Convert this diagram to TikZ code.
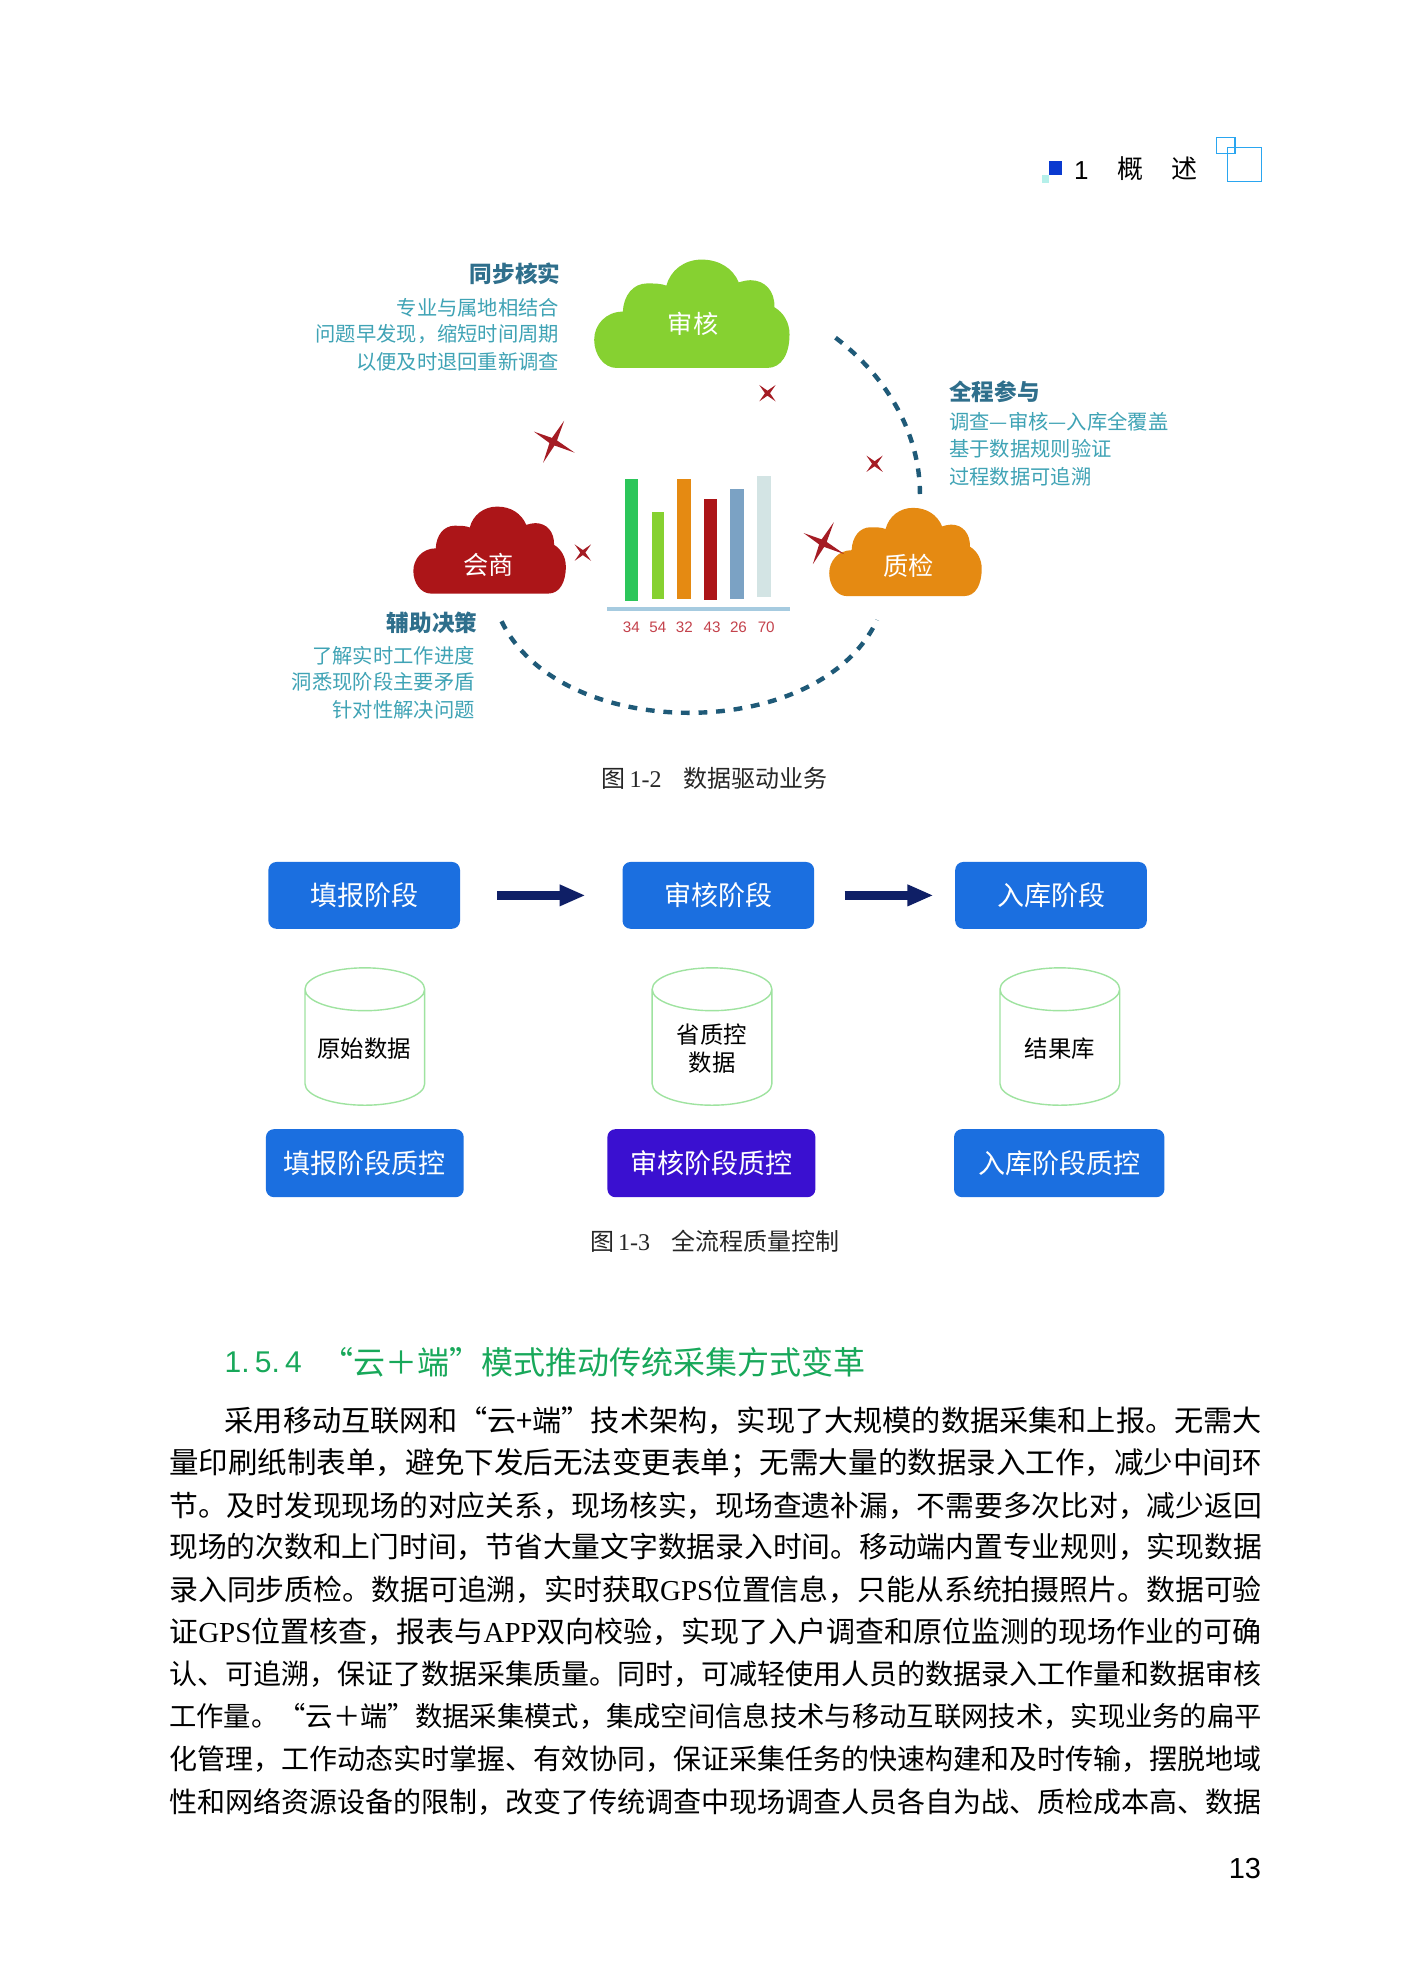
\documentclass[tikz,border=0pt]{standalone}
\usepackage{graphicx}
\usepackage{fontspec}
\usetikzlibrary{arrows.meta}
\setmainfont{Noto Sans CJK SC}
\newfontfamily\latserif{Liberation Serif}
\newfontfamily\latsans{Liberation Sans}
\definecolor{cgreen}{HTML}{86D131}
\definecolor{cred}{HTML}{AC1518}
\definecolor{corange}{HTML}{E58A12}
\definecolor{starred}{HTML}{A51C24}
\definecolor{headteal}{HTML}{2F6F8C}
\definecolor{lineteal}{HTML}{3FA3B5}
\definecolor{dashblue}{HTML}{1F5A78}
\definecolor{btnblue}{HTML}{1B6FE0}
\definecolor{btnpurple}{HTML}{3A10D0}
\definecolor{arrownavy}{HTML}{0F1F66}
\definecolor{cylgreen}{HTML}{9FE3A0}
\definecolor{secgreen}{HTML}{18A85A}
\definecolor{bargreen}{HTML}{2CC65A}
\definecolor{barlime}{HTML}{86D131}
\definecolor{barblue}{HTML}{7BA2C4}
\definecolor{barpale}{HTML}{D3E4E4}
\definecolor{axisblue}{HTML}{A6CBE0}
\definecolor{numred}{HTML}{C4424C}
\definecolor{cyanline}{HTML}{2AA6F0}
\definecolor{hblue}{HTML}{0A3AD0}
\definecolor{hcyan}{HTML}{B5F0EA}
\newcommand\fz[1]{\fontsize{#1}{#1}\selectfont}
% cloud in a unit box, scaled to x y w h
\newcommand\mycloud[5]{%
  \fill[#5,shift={(#1,#2)},xscale=#3,yscale=#4]
    (0.115,1) -- (0.885,1) .. controls (0.96,1) and (1,0.87) .. (1,0.69)
    .. controls (1,0.58) and (0.97,0.49) .. (0.923,0.44)
    .. controls (0.925,0.29) and (0.875,0.19) .. (0.80,0.19)
    .. controls (0.78,0.19) and (0.76,0.2) .. (0.74,0.21)
    .. controls (0.71,0.08) and (0.64,0) .. (0.55,0)
    .. controls (0.46,0) and (0.39,0.1) .. (0.37,0.24)
    .. controls (0.34,0.22) and (0.31,0.22) .. (0.27,0.22)
    .. controls (0.20,0.22) and (0.15,0.33) .. (0.147,0.48)
    .. controls (0.06,0.48) and (0,0.6) .. (0,0.74)
    .. controls (0,0.88) and (0.05,1) .. (0.115,1) -- cycle;}
% four-armed star
\newcommand\mystar[2]{%
  \fill[starred,shift={(#1,#2)}]
    (8.7,-16.7) -- (3,-1) -- (17,8.7) -- (1,3) -- (-8,16.7) -- (-3,1) -- (-15.3,-8) -- (-1,-3) -- cycle;}
% small cross
\newcommand\mycross[2]{%
  \fill[starred,shift={(#1,#2)}]
    (6.5,-6.5) -- (2,0) -- (6.5,6.5) -- (0,2) -- (-6.5,6.5) -- (-2,0) -- (-6.5,-6.5) -- (0,-2) -- cycle;}
\newcommand\mycyl[1]{%
  \draw[cylgreen,line width=0.7pt] (#1-47.5,785) arc[start angle=180,end angle=360,x radius=47.5,y radius=17]
     -- (#1+47.5,860) arc[start angle=0,end angle=180,x radius=47.5,y radius=17] -- cycle
     (#1-47.5,785) arc[start angle=180,end angle=0,x radius=47.5,y radius=17];}
\newcommand\bodyline[5]{\node[anchor=base west,inner sep=0pt] (#1) at (#2,#3) {\resizebox{#4}{!}{\fz{14.77}#5}};}
\newcommand\fbar[5]{\fill[#5] (#1,#2) rectangle (#3,#4);}
\tikzset{
  btn/.style={fill=btnblue,rounded corners=4pt,text=white,inner sep=0pt,font=\fz{13.5}},
  hd/.style={text=headteal,inner sep=0pt,font=\bfseries\fz{11.3}},
  ln/.style={text=lineteal,inner sep=0pt,font=\fz{10.15}},
  cloudlab/.style={text=white,inner sep=0pt,font=\fz{12.6}},
  cyllab/.style={text=black,inner sep=0pt,font=\fz{11.7}},
  num/.style={text=numred,inner sep=0pt,font=\latsans\fz{7.6}},
  captxt/.style={text=black!85,inner sep=0pt,font=\fz{12}},
  flowarrow/.style={arrownavy,line width=4.4pt,-{Triangle[length=13pt,width=10pt]}},
  dasharc/.style={dashblue,line width=2.2pt,dash pattern=on 4.4pt off 4.4pt}
}
\begin{document}
\begin{tikzpicture}[x=0.6301pt,y=-0.6301pt]
\useasboundingbox (0,0) rectangle (1122,1568);
\fill[white] (0,0) rectangle (1122,1568);
% header
\fill[hblue] (832,128) rectangle (843,139);
\fill[hcyan] (827,139) rectangle (832,145);
\node[inner sep=0pt,font=\latsans\fz{13}] (hnum) at (858,135) {1};
\node[inner sep=0pt,font=\fz{13}] (hgai) at (897,134) {概};
\node[inner sep=0pt,font=\fz{13}] (hshu) at (940,134) {述};
\draw[cyanline,line width=0.6pt] (965,109) rectangle (980,122);
\draw[cyanline,line width=0.6pt] (974,117) rectangle (1001,144);
% figure 1-2 clouds
\mycloud{471.5}{206}{155}{86}{cgreen}
\mycloud{328}{402}{121}{69}{cred}
\mycloud{658}{403}{121}{70}{corange}
\node[cloudlab] (shenhe) at (550,257) {审核};
\node[cloudlab] (huishang) at (388,448) {会商};
\node[cloudlab] (zhijian) at (721,449) {质检};
% stars
\mystar{439}{350.5}
\mystar{653}{431}
\mycross{609}{312}
\mycross{694}{368}
\mycross{462.5}{438.5}
% bars
\fbar{496}{380}{506}{477}{bargreen}
\fbar{517}{406}{527}{475}{barlime}
\fbar{537}{380}{548}{475}{corange}
\fbar{559}{396}{569}{476}{cred}
\fbar{579}{388}{590}{475}{barblue}
\fbar{601}{378}{612}{474}{barpale}
\fill[axisblue] (482,481.5) rectangle (627,484.5);
\node[num] (n1) at (501,498) {34};
\node[num] (n2) at (522,498) {54};
\node[num] (n3) at (543,498) {32};
\node[num] (n4) at (565,498) {43};
\node[num] (n5) at (586,498) {26};
\node[num] (n6) at (608,498) {70};
% dashed arcs
\coordinate (arcRa) at (663,268);
\coordinate (arcRb) at (730,392);
\coordinate (arcBa) at (398,493);
\coordinate (arcBb) at (696,492);
\draw[dasharc] (arcRa) .. controls (705,300) and (730,345) .. (arcRb);
\draw[dasharc] (arcBa) .. controls (445,590) and (650,590) .. (arcBb);
% side text
\node[hd,anchor=east] (t1h) at (445,217) {同步核实};
\node[ln,anchor=east] (t1a) at (444,244) {专业与属地相结合};
\node[ln,anchor=east] (t1b) at (444,265) {问题早发现，缩短时间周期};
\node[ln,anchor=east] (t1c) at (444,287) {以便及时退回重新调查};
\node[hd,anchor=west] (t2h) at (753,311) {全程参与};
\node[ln,anchor=west] (t2a) at (753,335) {调查—审核—入库全覆盖};
\node[ln,anchor=west] (t2b) at (753,356) {基于数据规则验证};
\node[ln,anchor=west] (t2c) at (753,378) {过程数据可追溯};
\node[hd,anchor=east] (t3h) at (379,494) {辅助决策};
\node[ln,anchor=east] (t3a) at (377,520) {了解实时工作进度};
\node[ln,anchor=east] (t3b) at (377,541) {洞悉现阶段主要矛盾};
\node[ln,anchor=east] (t3c) at (377,563) {针对性解决问题};
\node[captxt,anchor=west] (cap2) at (477,618) {图\,{\latserif 1-2}\hspace{0.9em}数据驱动业务};
% figure 1-3
\node[btn,minimum width=95.8pt,minimum height=33.4pt] (b1) at (289,710.5) {填报阶段};
\node[btn,minimum width=95.8pt,minimum height=33.4pt] (b2) at (570,710.5) {审核阶段};
\node[btn,minimum width=95.8pt,minimum height=33.4pt] (b3) at (834,710.5) {入库阶段};
\draw[flowarrow,shorten <=18.3pt,shorten >=18.3pt] (b1) -- (b2);
\draw[flowarrow,shorten <=15pt,shorten >=10.7pt] (b2) -- (b3);
\mycyl{289.5}
\mycyl{565}
\mycyl{841}
\node[cyllab] (c1) at (289,832) {原始数据};
\node[cyllab,align=center] (c2) at (565,832) {省质控\\[2pt]数据};
\node[cyllab] (c3) at (841,832) {结果库};
\node[btn,minimum width=98.9pt,minimum height=34pt] (q1) at (289.5,923) {填报阶段质控};
\node[btn,fill=btnpurple,minimum width=104pt,minimum height=34pt] (q2) at (564.5,923) {审核阶段质控};
\node[btn,minimum width=105.2pt,minimum height=34pt] (q3) at (840.5,923) {入库阶段质控};
\node[captxt,anchor=west] (cap3) at (468,985) {图\,{\latserif 1-3}\hspace{0.9em}全流程质量控制};
% section heading
\node[anchor=west,inner sep=0pt,text=secgreen,font=\latsans\fz{15}] (secnum) at (178,1081) {1.\hspace{2.6pt}5.\hspace{2.6pt}4};
\node[anchor=west,inner sep=0pt,text=secgreen,font=\fz{16}] (sectitle) at (255,1081) {“云＋端”模式推动传统采集方式变革};
% body
\bodyline{l1}{178}{1136}{518.6pt}{采用移动互联网和“云+端”技术架构，实现了大规模的数据采集和上报。无需大}
\bodyline{l2}{134}{1169}{546.3pt}{量印刷纸制表单，避免下发后无法变更表单；无需大量的数据录入工作，减少中间环}
\bodyline{l3}{134}{1203}{546.3pt}{节。及时发现现场的对应关系，现场核实，现场查遗补漏，不需要多次比对，减少返回}
\bodyline{l4}{134}{1236}{546.3pt}{现场的次数和上门时间，节省大量文字数据录入时间。移动端内置专业规则，实现数据}
\bodyline{l5}{134}{1270}{546.3pt}{录入同步质检。数据可追溯，实时获取{\latserif GPS}位置信息，只能从系统拍摄照片。数据可验}
\bodyline{l6}{134}{1303}{546.3pt}{证{\latserif GPS}位置核查，报表与{\latserif APP}双向校验，实现了入户调查和原位监测的现场作业的可确}
\bodyline{l7}{134}{1337}{546.3pt}{认、可追溯，保证了数据采集质量。同时，可减轻使用人员的数据录入工作量和数据审核}
\bodyline{l8}{134}{1370}{546.3pt}{工作量。“云＋端”数据采集模式，集成空间信息技术与移动互联网技术，实现业务的扁平}
\bodyline{l9}{134}{1404}{546.3pt}{化管理，工作动态实时掌握、有效协同，保证采集任务的快速构建和及时传输，摆脱地域}
\bodyline{l10}{134}{1438}{546.3pt}{性和网络资源设备的限制，改变了传统调查中现场调查人员各自为战、质检成本高、数据}
\node[anchor=east,inner sep=0pt,font=\latsans\fz{14.5}] (pageno) at (1001,1483) {13};
\end{tikzpicture}
\end{document}
